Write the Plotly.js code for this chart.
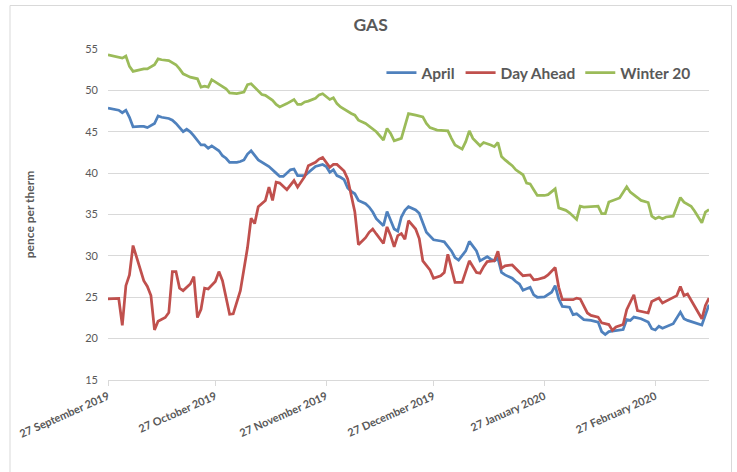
<!DOCTYPE html>
<html>
<head>
<meta charset="utf-8">
<script src="https://cdn.plot.ly/plotly-3.0.1.min.js"></script>
<style>
  html, body { margin: 0; padding: 0; background: #ffffff; }
  #chart { width: 737px; height: 472px; }
</style>
</head>
<body>
<div id="chart"></div>
<script>
// Days are counted from 27 September 2019 (day 0)
const startDateUTC = Date.UTC(2019, 8, 27);

const seriesNames = ["April", "Day Ahead", "Winter 20"];

const aprilDays = [0,3,4,5,6,7,9,10,11,13,14,15,17,18,19,20,21,22,23,24,26,27,28,29,30,31,32,33,34,36,37,38,39,40,42,43,44,45,47,48,49,50,51,52,53,55,56,57,58,60,61,62,63,64,65,66,67,68,69,70,72,73,74,75,77,78,79,80,81,82,83,84,86,87,89,90,91,93,94,96,97,98,100,101,103,104,106,107,108,109,110,111,113,114,115,116,118,119,120,122,123,124,125,126,127,129,130,131,133,135,137,138,139,140,144,145,146,147,149,151,152,153,154,155,158,160,161,162,166,167,168];
const aprilValues = [47.85,47.6,47.3,47.6,46.75,45.6,45.65,45.65,45.5,46.0,46.9,46.75,46.6,46.4,46.0,45.5,45.0,45.3,45.0,44.5,43.4,43.4,43.0,43.3,43.0,42.7,42.1,41.8,41.3,41.3,41.4,41.6,42.3,42.7,41.6,41.3,41.1,40.8,40.0,39.6,39.6,40.0,40.4,40.5,39.7,39.7,40.1,40.5,40.8,41.05,40.8,40.1,40.4,39.7,39.5,39.2,38.2,37.8,37.5,36.7,36.3,35.9,35.3,34.5,33.65,35.35,34.3,33.25,33.0,34.7,35.5,35.95,35.55,35.15,32.85,32.45,31.95,31.8,31.7,30.6,29.8,29.5,30.6,31.75,30.6,29.4,29.9,29.6,29.4,29.7,28.0,27.7,27.3,26.9,26.6,25.85,26.2,25.3,25.0,25.05,25.3,25.6,26.4,24.8,23.9,23.8,22.9,23.0,22.3,22.2,22.0,20.85,20.5,20.85,21.1,22.3,22.2,22.6,22.4,22.0,21.2,21.05,21.5,21.25,21.8,23.2,22.4,22.2,21.65,23.0,24.1];

const dayAheadDays = [0,3,4,5,6,7,10,11,12,13,14,16,17,18,19,20,21,23,24,25,26,27,28,30,31,32,34,35,37,38,39,40,41,42,44,45,46,47,48,50,51,52,53,55,56,58,59,60,62,63,64,65,66,67,69,70,72,73,74,75,77,78,79,80,81,82,83,84,86,87,88,90,91,93,94,95,96,97,99,100,101,103,104,105,106,108,109,110,111,113,114,115,116,118,119,120,122,123,125,126,127,130,131,132,134,135,137,138,140,141,142,144,145,147,148,151,152,154,155,159,160,161,162,166,167,168];
const dayAheadValues = [24.8,24.85,21.6,26.4,27.7,31.25,27.0,26.3,25.2,21.05,22.1,22.55,23.15,28.1,28.1,26.1,25.8,26.6,27.5,22.55,23.55,26.1,26.0,26.9,28.1,27.0,22.95,23.0,25.8,28.2,31.0,34.55,33.9,35.95,36.7,38.3,36.7,38.9,38.8,38.0,38.5,39.1,38.3,39.6,40.9,41.3,41.7,41.9,40.7,41.05,41.05,40.7,40.25,39.3,35.3,31.35,32.2,32.85,33.25,32.65,31.5,33.5,32.45,31.1,32.45,32.7,32.0,34.25,33.25,32.1,29.4,28.3,27.3,27.6,28.0,30.2,28.6,26.8,26.8,28.0,29.4,28.0,27.9,28.7,29.3,29.4,30.55,28.5,28.8,28.9,28.5,28.1,27.6,27.7,27.1,27.15,27.4,27.7,28.6,26.2,24.7,24.7,24.9,24.8,23.1,22.8,22.6,21.9,21.7,21.0,21.4,21.7,23.5,25.3,23.4,23.1,24.5,24.9,24.3,25.2,26.3,25.2,25.4,22.4,24.0,24.9];

const winterDays = [0,3,4,5,6,7,9,10,11,13,14,15,17,18,19,20,21,22,23,25,26,27,28,29,30,31,32,33,34,36,38,39,40,42,43,44,45,46,47,48,50,51,52,53,54,55,56,58,59,60,61,62,63,64,65,66,68,69,70,72,73,75,77,78,79,80,82,83,84,86,88,89,90,92,95,96,97,99,100,101,102,104,105,107,108,109,110,111,113,114,116,117,118,119,120,122,123,125,126,128,129,131,132,133,137,138,139,140,142,143,145,146,148,149,151,152,153,154,155,156,158,160,161,163,164,166,167,168];
const winterValues = [54.3,54.0,53.9,54.15,52.9,52.3,52.5,52.6,52.6,53.1,53.8,53.7,53.6,53.4,53.1,52.6,52.0,51.8,51.6,51.4,50.4,50.5,50.4,51.3,51.0,50.8,50.4,50.2,49.7,49.6,49.8,50.7,50.8,49.9,49.5,49.4,49.1,48.8,48.3,48.0,48.4,48.7,48.9,48.3,48.3,48.6,48.7,49.05,49.46,49.6,49.3,48.9,49.1,48.4,48.0,47.7,47.2,47.0,46.4,46.0,45.7,45.0,44.0,45.4,44.8,43.9,44.2,45.8,47.2,47.0,46.8,46.0,45.5,45.2,45.1,44.2,43.4,42.9,43.8,45.1,44.2,43.3,43.7,43.4,43.2,43.7,42.0,41.6,40.9,40.4,39.8,38.8,38.7,38.0,37.3,37.3,37.4,38.1,35.8,35.5,35.2,34.4,36.0,35.9,36.0,35.1,35.1,36.5,36.85,37.0,38.35,37.7,37.05,36.7,36.45,34.8,34.5,34.7,34.5,34.7,34.8,37.05,36.5,36.0,35.4,34.0,35.3,35.6];

const tickDates = ["2019-09-27","2019-10-27","2019-11-27","2019-12-27","2020-01-27","2020-02-27"];
const tickLabels = ["27 September 2019","27 October 2019","27 November 2019","27 December 2019","27 January 2020","27 February 2020"];
const xStart = "2019-09-27";
const xEnd = "2020-03-13";

const yTicks = [15,20,25,30,35,40,45,50,55];

function toDate(d) {
  return new Date(startDateUTC + d * 86400000).toISOString().slice(0, 10);
}

const colors = ["#4F81BD", "#C0504D", "#9BBB59"];
const dayLists = [aprilDays, dayAheadDays, winterDays];
const valueLists = [aprilValues, dayAheadValues, winterValues];

const traces = seriesNames.map((name, i) => ({
  type: "scatter",
  mode: "lines",
  name: name,
  x: dayLists[i].map(toDate),
  y: valueLists[i],
  line: { color: colors[i], width: 2.75 },
  hoverinfo: "x+y+name"
}));

const fontFamily = "Lato, 'Open Sans', 'DejaVu Sans', sans-serif";
const grey = "#595959";

const layout = {
  width: 737,
  height: 472,
  margin: { l: 108, r: 28, t: 49, b: 92, pad: 0 },
  paper_bgcolor: "#ffffff",
  plot_bgcolor: "#ffffff",
  font: { family: fontFamily, color: grey },
  showlegend: true,
  title: {
    text: "<b>GAS</b>",
    font: { family: fontFamily, size: 17.5, color: grey },
    x: 0.503,
    xref: "container",
    xanchor: "center",
    y: 0.947,
    yref: "container",
    yanchor: "middle"
  },
  legend: {
    orientation: "h",
    x: 0.455,
    xanchor: "left",
    y: 0.927,
    yanchor: "middle",
    bgcolor: "rgba(0,0,0,0)",
    font: { family: fontFamily, size: 15.5, color: grey, weight: "bold" },
    itemwidth: 30,
    tracegroupgap: 0
  },
  xaxis: {
    type: "date",
    range: [xStart, xEnd],
    tickvals: tickDates,
    ticktext: tickLabels,
    tickangle: -24,
    tickfont: { family: fontFamily, size: 11, color: grey, weight: "bold" },
    showgrid: false,
    zeroline: false,
    showline: true,
    linecolor: "#d9d9d9",
    linewidth: 1,
    ticks: "outside",
    ticklen: 5,
    tickcolor: "#d9d9d9",
    fixedrange: true
  },
  yaxis: {
    range: [15, 55],
    tickvals: yTicks,
    showgrid: true,
    gridcolor: "#d9d9d9",
    gridwidth: 1,
    zeroline: false,
    showline: false,
    ticks: "",
    ticklabelstandoff: 9,
    tickfont: { family: fontFamily, size: 11, color: grey },
    title: {
      text: "<b>pence per therm</b>",
      font: { family: fontFamily, size: 12, color: grey },
      standoff: 48
    },
    automargin: false,
    fixedrange: true
  },
  shapes: [{
    type: "rect",
    xref: "paper",
    yref: "paper",
    x0: (10 - 108) / 601,
    x1: (731.5 - 108) / 601,
    y0: (380 - 490) / 331,
    y1: (380 - 5.5) / 331,
    line: { color: "#d9d9d9", width: 1 },
    fillcolor: "rgba(0,0,0,0)",
    layer: "below"
  }]
};

Plotly.newPlot("chart", traces, layout, { displayModeBar: false, staticPlot: false, responsive: false });
</script>
</body>
</html>
